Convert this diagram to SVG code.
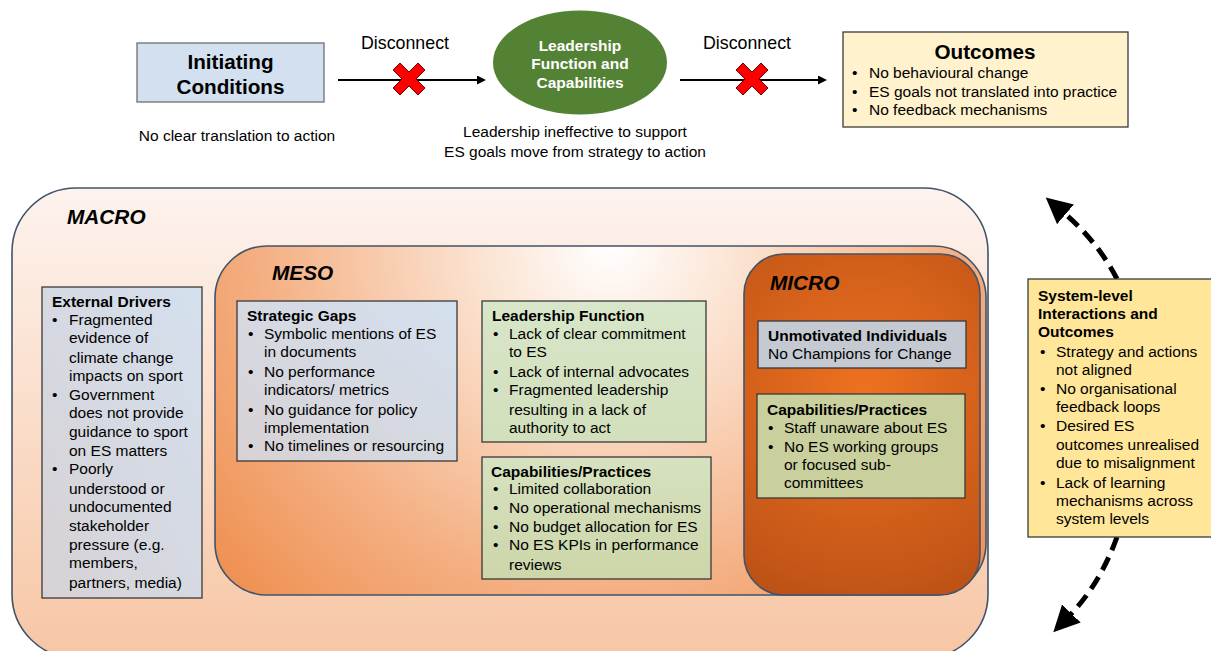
<svg xmlns="http://www.w3.org/2000/svg" width="1211" height="651" viewBox="0 0 1211 651">
<style>
text{font-family:"Liberation Sans",Arial,sans-serif;fill:#000;font-size:15.5px}
.b{font-weight:bold}
.t20{font-size:20.7px;font-weight:bold}
.lvl{font-size:20.8px;font-weight:bold;font-style:italic}
.c{text-anchor:middle}
.w{fill:#fff;font-weight:bold}
.dc{font-size:17.8px}
.box{stroke:#3a3a3a;stroke-width:1.3}
.cont{stroke:#41536b;stroke-width:1.6}
.x{fill:#ff0000;stroke:#7a0000;stroke-width:1}
.conn{stroke:#000;stroke-width:2;fill:none}
.dash{stroke:#000;stroke-width:5;fill:none;stroke-dasharray:14 8}
</style>
<defs>
<linearGradient id="gMacro" x1="0" y1="0" x2="0" y2="1">
<stop offset="0" stop-color="#fdf3ee"/>
<stop offset="1" stop-color="#f7c6a4"/>
</linearGradient>
<radialGradient id="gMeso" gradientUnits="userSpaceOnUse" cx="610" cy="245" r="540">
<stop offset="0" stop-color="#ffffff"/>
<stop offset="0.25" stop-color="#fbe2d0"/>
<stop offset="0.65" stop-color="#f4af82"/>
<stop offset="1" stop-color="#ee8a48"/>
</radialGradient>
<radialGradient id="gMicro" gradientUnits="userSpaceOnUse" cx="865" cy="390" r="220">
<stop offset="0" stop-color="#ee7120"/>
<stop offset="1" stop-color="#bd5216"/>
</radialGradient>
<linearGradient id="gBlue" x1="1" y1="0" x2="0" y2="1">
<stop offset="0" stop-color="#d4e0ee"/>
<stop offset="1" stop-color="#d7d2d5"/>
</linearGradient>
<linearGradient id="gGreen1" x1="0" y1="0" x2="0" y2="1">
<stop offset="0" stop-color="#d8e6c9"/>
<stop offset="1" stop-color="#d2dfbc"/>
</linearGradient>
<linearGradient id="gGreen2" x1="0" y1="0" x2="0" y2="1">
<stop offset="0" stop-color="#d6e2c0"/>
<stop offset="1" stop-color="#cdd6a9"/>
</linearGradient>
<marker id="ah" markerUnits="userSpaceOnUse" markerWidth="10" markerHeight="10" refX="1" refY="4.5" orient="auto">
<path d="M0,0 L9,4.5 L0,9 z" fill="#000"/>
</marker>
<marker id="big" markerUnits="userSpaceOnUse" markerWidth="30" markerHeight="30" refX="2" refY="13" orient="auto">
<path d="M0,0 L26,13 L0,26 z" fill="#000"/>
</marker>
</defs>

<g id="connectors">
<line class="conn" x1="338" y1="80" x2="478" y2="80" marker-end="url(#ah)"/>
<line class="conn" x1="680" y1="80" x2="819" y2="80" marker-end="url(#ah)"/>
<path class="x" d="M-16,-9 L-9,-16 L0,-7 L9,-16 L16,-9 L7,0 L16,9 L9,16 L0,7 L-9,16 L-16,9 L-7,0 z" transform="translate(409,79)"/>
<path class="x" d="M-16,-9 L-9,-16 L0,-7 L9,-16 L16,-9 L7,0 L16,9 L9,16 L0,7 L-9,16 L-16,9 L-7,0 z" transform="translate(752,79)"/>
<text x="405" y="49" class="c dc">Disconnect</text>
<text x="747" y="49" class="c dc">Disconnect</text>
<path class="dash" d="M1117,279 Q1098,242 1064,213" marker-end="url(#big)"/>
<path class="dash" d="M1117,537 Q1100,584 1070,615" marker-end="url(#big)"/>
</g>

<g id="initiating">
<rect x="137" y="43" width="187" height="59" fill="#d2e0ef" stroke="#6f6f6f" stroke-width="1.3"/>
<text x="230.5" y="69" class="c t20">Initiating</text>
<text x="230.5" y="94" class="c t20">Conditions</text>
<text x="237" y="141" class="c">No clear translation to action</text>
</g>

<g id="leadership">
<ellipse cx="580" cy="62.5" rx="87" ry="52" fill="#548235"/>
<text x="580" y="51" class="c w">Leadership</text>
<text x="580" y="69" class="c w">Function and</text>
<text x="580" y="88" class="c w">Capabilities</text>
<text x="575" y="137" class="c">Leadership ineffective to support</text>
<text x="575" y="157" class="c">ES goals move from strategy to action</text>
</g>

<g id="outcomes">
<rect x="843" y="32" width="285" height="95" fill="#fff2cc" class="box"/>
<text x="985" y="59" class="c t20">Outcomes</text>
<text x="852" y="78">•</text><text x="869" y="78">No behavioural change</text>
<text x="852" y="97">•</text><text x="869" y="97">ES goals not translated into practice</text>
<text x="852" y="115">•</text><text x="869" y="115">No feedback mechanisms</text>
</g>

<g id="macro">
<rect x="12" y="188" width="976" height="470" rx="64" ry="64" fill="url(#gMacro)" class="cont"/>
<text x="67" y="224" class="lvl">MACRO</text>
</g>

<g id="meso">
<rect x="215" y="246" width="771" height="349" rx="52" ry="52" fill="url(#gMeso)" class="cont"/>
<text x="272" y="280" class="lvl">MESO</text>
</g>

<g id="micro">
<rect x="744" y="254" width="236" height="341" rx="40" ry="40" fill="url(#gMicro)" class="cont"/>
<text x="770" y="290" class="lvl">MICRO</text>
</g>

<g id="external-drivers">
<rect x="42" y="287" width="160" height="311" fill="url(#gBlue)" class="box"/>
<text x="52" y="307" class="b">External Drivers</text>
<text x="52" y="325">•</text><text x="69" y="325">Fragmented</text>
<text x="69" y="343">evidence of</text>
<text x="69" y="363">climate change</text>
<text x="69" y="381">impacts on sport</text>
<text x="52" y="400">•</text><text x="69" y="400">Government</text>
<text x="69" y="418">does not provide</text>
<text x="69" y="437">guidance to sport</text>
<text x="69" y="456">on ES matters</text>
<text x="52" y="474">•</text><text x="69" y="474">Poorly</text>
<text x="69" y="494">understood or</text>
<text x="69" y="512">undocumented</text>
<text x="69" y="531">stakeholder</text>
<text x="69" y="550">pressure (e.g.</text>
<text x="69" y="568">members,</text>
<text x="69" y="588">partners, media)</text>
</g>

<g id="strategic-gaps">
<rect x="237" y="301" width="220" height="160" fill="url(#gBlue)" class="box"/>
<text x="247" y="321" class="b">Strategic Gaps</text>
<text x="248" y="339">•</text><text x="264" y="339">Symbolic mentions of ES</text>
<text x="264" y="357">in documents</text>
<text x="248" y="377">•</text><text x="264" y="377">No performance</text>
<text x="264" y="395">indicators/ metrics</text>
<text x="248" y="415">•</text><text x="264" y="415">No guidance for policy</text>
<text x="264" y="433">implementation</text>
<text x="248" y="451">•</text><text x="264" y="451">No timelines or resourcing</text>
</g>

<g id="leadership-function">
<rect x="482" y="301" width="224" height="141" fill="url(#gGreen1)" class="box"/>
<text x="492" y="321" class="b">Leadership Function</text>
<text x="493" y="339">•</text><text x="509" y="339">Lack of clear commitment</text>
<text x="509" y="357">to ES</text>
<text x="493" y="377">•</text><text x="509" y="377">Lack of internal advocates</text>
<text x="493" y="395">•</text><text x="509" y="395">Fragmented leadership</text>
<text x="509" y="415">resulting in a lack of</text>
<text x="509" y="433">authority to act</text>
</g>

<g id="meso-capabilities">
<rect x="482" y="457" width="229" height="122" fill="url(#gGreen2)" class="box"/>
<text x="491" y="477" class="b">Capabilities/Practices</text>
<text x="493" y="494">•</text><text x="509" y="494">Limited collaboration</text>
<text x="493" y="513">•</text><text x="509" y="513">No operational mechanisms</text>
<text x="493" y="532">•</text><text x="509" y="532">No budget allocation for ES</text>
<text x="493" y="550">•</text><text x="509" y="550">No ES KPIs in performance</text>
<text x="509" y="570">reviews</text>
</g>

<g id="unmotivated">
<rect x="758" y="321" width="208" height="47" fill="#c4c9d2" class="box"/>
<text x="768" y="341" class="b">Unmotivated Individuals</text>
<text x="768" y="359">No Champions for Change</text>
</g>

<g id="micro-capabilities">
<rect x="757" y="394" width="208" height="104" fill="#c9d09e" class="box"/>
<text x="767" y="415" class="b">Capabilities/Practices</text>
<text x="768" y="433">•</text><text x="784" y="433">Staff unaware about ES</text>
<text x="768" y="452">•</text><text x="784" y="452">No ES working groups</text>
<text x="784" y="470">or focused sub-</text>
<text x="784" y="488">committees</text>
</g>

<g id="system-level">
<rect x="1028" y="279" width="190" height="258" fill="#ffe699" class="box"/>
<text x="1038" y="301" class="b">System-level</text>
<text x="1038" y="319" class="b">Interactions and</text>
<text x="1038" y="337" class="b">Outcomes</text>
<text x="1040" y="357">•</text><text x="1056" y="357">Strategy and actions</text>
<text x="1056" y="375">not aligned</text>
<text x="1040" y="394">•</text><text x="1056" y="394">No organisational</text>
<text x="1056" y="412">feedback loops</text>
<text x="1040" y="431">•</text><text x="1056" y="431">Desired ES</text>
<text x="1056" y="450">outcomes unrealised</text>
<text x="1056" y="468">due to misalignment</text>
<text x="1040" y="488">•</text><text x="1056" y="488">Lack of learning</text>
<text x="1056" y="506">mechanisms across</text>
<text x="1056" y="524">system levels</text>
</g>
</svg>
